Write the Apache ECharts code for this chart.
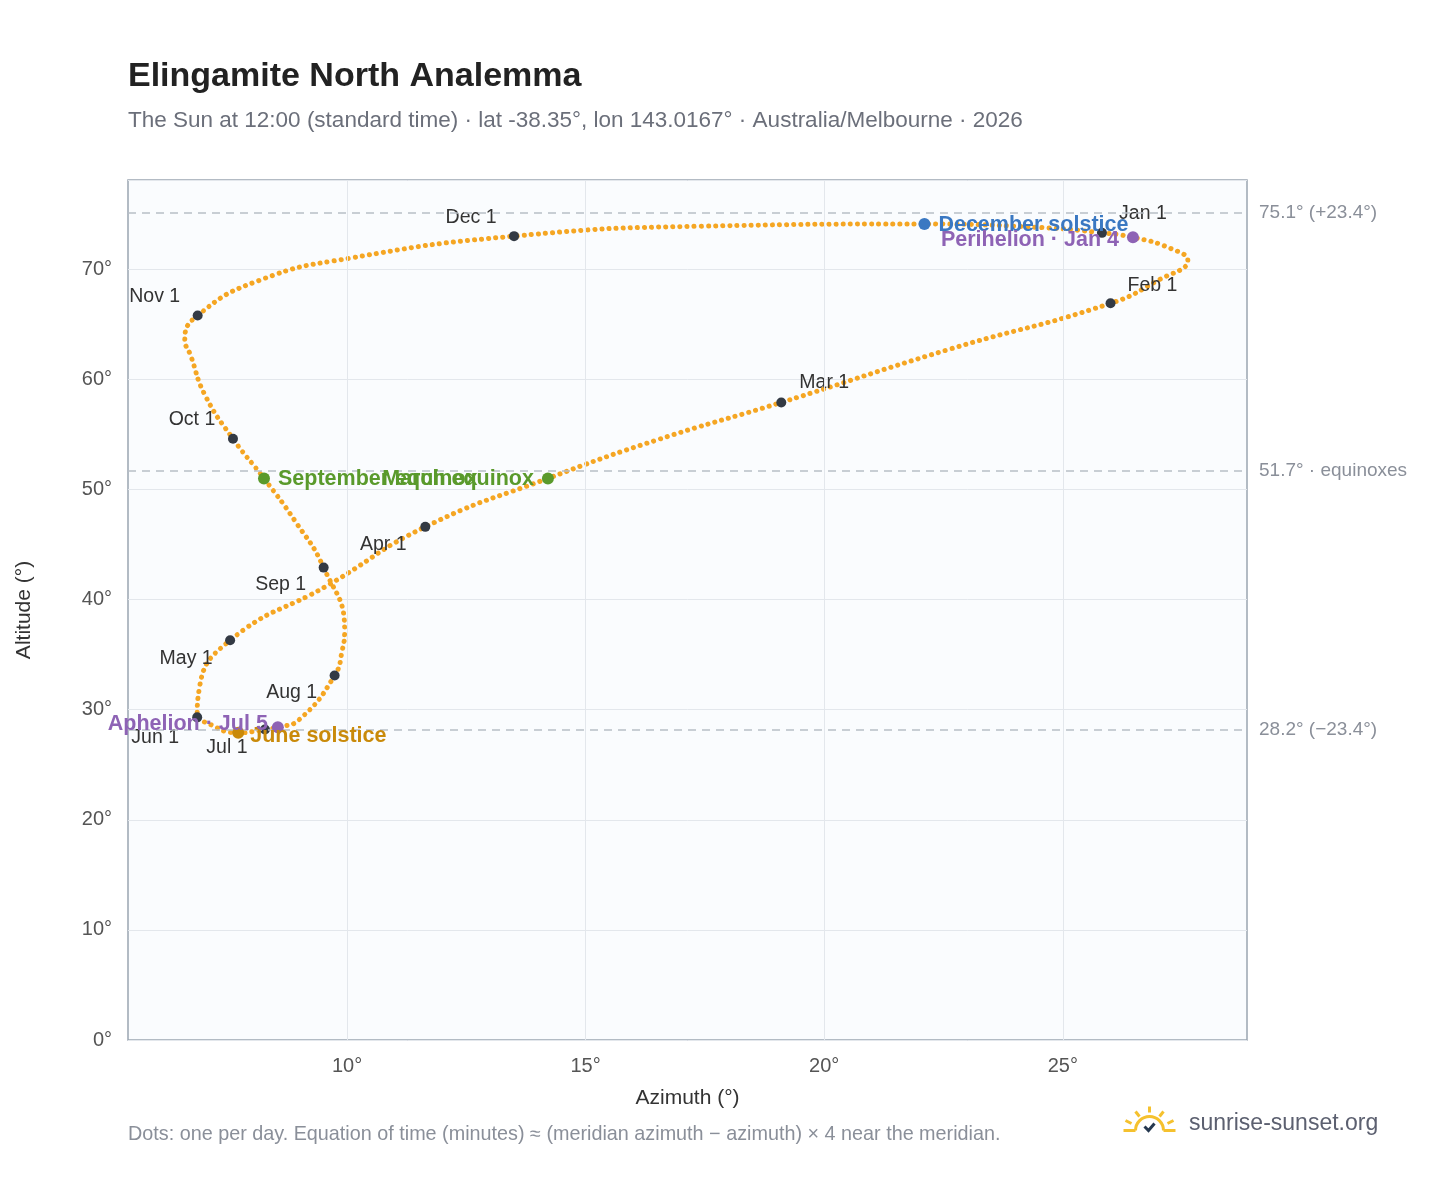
<!DOCTYPE html>
<html><head><meta charset="utf-8">
<script src="https://cdn.jsdelivr.net/npm/echarts@6/dist/echarts.min.js"></script>
<style>html,body{margin:0;padding:0;background:#fff}#c{width:1448px;height:1188px}</style>
</head><body><div id="c"></div>
<script>
// Path points (azimuth°, altitude°), Jan 1 → Dec 31
const pathAz = [25.82,26.47,27.25,27.62,27.0,26.0,22.6,19.1,16.5,14.21,11.64,9.6,7.55,6.9,6.86,7.0,7.72,8.28,8.55,9.0,9.74,9.9,9.95,9.51,8.9,8.26,7.61,7.02,6.72,6.6,6.87,8.17,10.06,13.5,17.4,22.1,24.7,25.7];
const pathAlt = [73.3,72.9,71.9,70.8,69.0,66.9,62.7,57.9,54.5,51.0,46.6,41.3,36.3,31.8,29.3,28.9,27.9,28.2,28.4,29.1,33.1,35.4,37.2,42.9,47.2,51.0,54.6,58.6,62.2,63.6,65.8,69.0,71.0,73.0,73.9,74.1,73.75,73.35];
// Month markers
const monthNames = ["Jan 1","Feb 1","Mar 1","Apr 1","May 1","Jun 1","Jul 1","Aug 1","Sep 1","Oct 1","Nov 1","Dec 1"];
const monthAz = [25.82,26.0,19.1,11.64,7.55,6.86,8.28,9.74,9.51,7.61,6.87,13.5];
const monthAlt = [73.3,66.9,57.9,46.6,36.3,29.3,28.2,33.1,42.9,54.6,65.8,73.0];
// Special events
const eventNames = ["December solstice","Perihelion · Jan 4","March equinox","September equinox","June solstice","Aphelion · Jul 5"];
const eventAz = [22.1,26.47,14.21,8.26,7.72,8.55];
const eventAlt = [74.1,72.9,51.0,51.0,27.9,28.4];
// Reference lines and ticks
const refVals = [75.1,51.7,28.2];
const refLabels = ["75.1° (+23.4°)","51.7° · equinoxes","28.2° (−23.4°)"];
const xTicks = [10,15,20,25];

const monthOffsets = [[41,-19],[42,-18],[43,-20],[-42,18],[-44,18],[-42,20],[-38,18],[-43,17],[-43,17],[-41,-19],[-43,-19],[-43,-19]];
const eventStyle = [
 {c:'#3a78c2',pos:'right',off:[0,1]},
 {c:'#8e63b5',pos:'left',off:[0,3]},
 {c:'#5a9a2c',pos:'left',off:[0,1]},
 {c:'#5a9a2c',pos:'right',off:[0,1]},
 {c:'#c98a0a',pos:'right',off:[-2,3]},
 {c:'#8e63b5',pos:'left',off:[4,-3]}
];
const F = 'Liberation Sans';
const chart = echarts.init(document.getElementById('c'));
chart.setOption({
 animation:false,
 textStyle:{fontFamily:F},
 title:[{text:'Elingamite North Analemma',left:123,top:55,textStyle:{fontSize:34,fontWeight:'bold',color:'#222',fontFamily:F}},
        {text:'The Sun at 12:00 (standard time) · lat -38.35°, lon 143.0167° · Australia/Melbourne · 2026',left:123,top:104,textStyle:{fontSize:22.5,fontWeight:'normal',color:'#6b6f7a',fontFamily:F}}],
 grid:{left:128,right:201,top:180,bottom:148,show:true,backgroundColor:'#fafcfe',borderColor:'#9aa5b1',borderWidth:1.5},
 xAxis:{type:'value',min:5.41,max:28.86,name:'Azimuth (°)',nameLocation:'middle',nameGap:48,
   nameTextStyle:{fontSize:21,color:'#333'},
   axisLabel:{fontSize:20,color:'#555',margin:16,customValues:xTicks,formatter:v=>v+'°'},
   splitLine:{show:false},axisLine:{show:false},axisTick:{show:false}},
 yAxis:{type:'value',min:0,max:78.1,interval:10,name:'Altitude (°)',nameLocation:'middle',nameGap:93,
   nameTextStyle:{fontSize:21,color:'#333'},
   axisLabel:{fontSize:20,color:'#555',margin:16,formatter:v=>(v%10===0)?v+'°':'',showMaxLabel:false},
   splitLine:{lineStyle:{color:'#e3e7ec'}},axisLine:{show:false},axisTick:{show:false}},
 graphic:[
  {type:'text',left:128,top:1125,style:{text:'Dots: one per day. Equation of time (minutes) ≈ (meridian azimuth − azimuth) × 4 near the meridian.',fontSize:19.8,fill:'#8a8f99',fontFamily:F}},
  {type:'text',left:1189,top:1112,style:{text:'sunrise-sunset.org',fontSize:23,fill:'#5c6070',fontFamily:F}},
  {type:'group',left:1121,top:1104,children:[
    {type:'arc',shape:{cx:26,cy:24,r:14,startAngle:Math.PI,endAngle:0},style:{stroke:'#f5c12e',lineWidth:3,fill:null}},
    {type:'line',shape:{x1:26,y1:0,x2:26,y2:6},style:{stroke:'#f5c12e',lineWidth:3}},
    {type:'line',shape:{x1:12,y1:5,x2:16,y2:10},style:{stroke:'#f5c12e',lineWidth:3}},
    {type:'line',shape:{x1:40,y1:5,x2:36,y2:10},style:{stroke:'#f5c12e',lineWidth:3}},
    {type:'line',shape:{x1:2,y1:14,x2:8,y2:17},style:{stroke:'#f5c12e',lineWidth:3}},
    {type:'line',shape:{x1:50,y1:14,x2:44,y2:17},style:{stroke:'#f5c12e',lineWidth:3}},
    {type:'line',shape:{x1:0,y1:24,x2:12,y2:24},style:{stroke:'#f5c12e',lineWidth:3}},
    {type:'line',shape:{x1:40,y1:24,x2:52,y2:24},style:{stroke:'#f5c12e',lineWidth:3}},
    {type:'polyline',shape:{points:[[21,20],[25,24],[31,17]]},style:{stroke:'#25384f',lineWidth:3,fill:null}}
  ]}
 ],
 series:[
  {type:'line',smooth:0.5,symbol:'none',data:pathAz.map((a,i)=>[a,pathAlt[i]]),
   lineStyle:{color:'#f5a623',width:5,type:[0.1,7],cap:'round'},z:2,
   markLine:{silent:true,symbol:'none',
     data:[
      ...refVals.map((v,i)=>({yAxis:v,lineStyle:{color:'#b8bec6',type:[8,6],width:1.5},
         label:{position:'end',distance:12,fontSize:19,color:'#8a8f99',formatter:refLabels[i]}})),
      ...xTicks.map(v=>({xAxis:v,lineStyle:{color:'#e3e7ec',type:'solid',width:1},label:{show:false}}))
     ]}},
  {type:'scatter',symbolSize:10,z:4,itemStyle:{color:'#333a44',opacity:1},
   data:monthAz.map((a,i)=>({value:[a,monthAlt[i]],label:{show:true,position:'inside',offset:monthOffsets[i],formatter:monthNames[i],fontSize:19.5,color:'#333'}}))},
  {type:'scatter',symbolSize:12,z:5,
   data:eventAz.map((a,i)=>({value:[a,eventAlt[i]],itemStyle:{color:eventStyle[i].c,opacity:1},
     label:{show:true,position:eventStyle[i].pos,offset:eventStyle[i].off,distance:8,formatter:eventNames[i],fontSize:21.5,fontWeight:'bold',color:eventStyle[i].c}}))}
 ]
});
</script></body></html>
